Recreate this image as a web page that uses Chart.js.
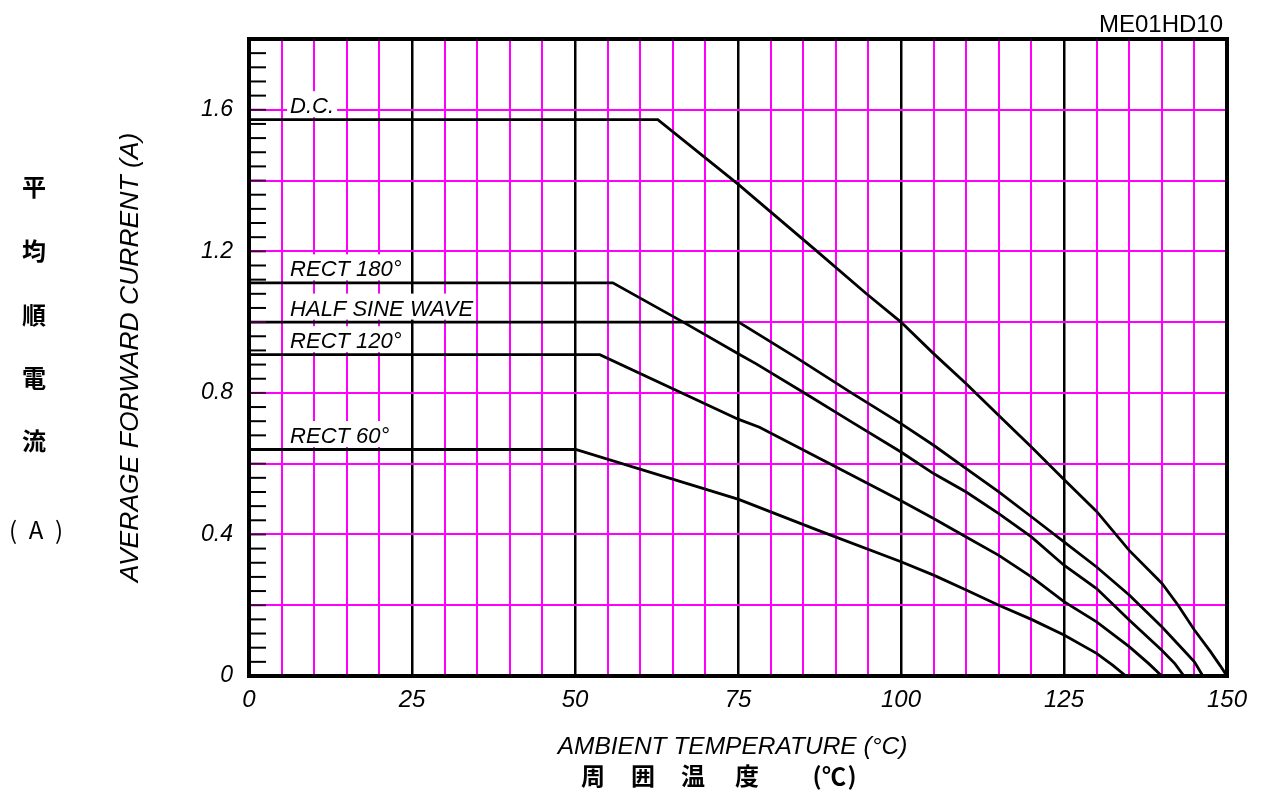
<!DOCTYPE html>
<html>
<head>
<meta charset="utf-8">
<script src="https://cdn.jsdelivr.net/npm/chart.js@4.4.1/dist/chart.umd.min.js"></script>
<style>
html,body{margin:0;padding:0;background:#fff;}
#wrap{width:1265px;height:798px;position:relative;}
</style>
</head>
<body>
<div id="wrap"><canvas id="chart"></canvas></div>
<script>
// derating curves (temp in degC, current in A)
const dcT = [0, 62.7, 75, 87, 94.7, 100, 105, 110, 115, 120, 125, 130, 135, 140, 142.5, 145, 147.5, 149, 150];
const dcA = [1.572, 1.572, 1.39, 1.202, 1.08, 1.0, 0.911, 0.826, 0.736, 0.647, 0.555, 0.465, 0.355, 0.262, 0.2, 0.13, 0.068, 0.028, 0];

const r180T = [0, 55.8, 66.6, 75.1, 77.8, 85, 92.4, 100, 105, 110, 115, 120, 125, 130, 135, 140, 142, 143.4];
const r180A = [1.111, 1.111, 1.0, 0.91, 0.882, 0.802, 0.718, 0.633, 0.572, 0.52, 0.459, 0.393, 0.313, 0.247, 0.158, 0.073, 0.035, 0];

const halfT = [0, 75.1, 84, 92.4, 100, 105, 110, 115, 120, 125, 130, 135, 140, 143, 145, 146.3];
const halfA = [1.0, 1.0, 0.899, 0.80, 0.713, 0.652, 0.586, 0.52, 0.45, 0.379, 0.308, 0.229, 0.139, 0.08, 0.04, 0];

const r120T = [0, 53.8, 75.1, 78.3, 89.6, 100, 105, 110, 115, 120, 125, 130, 135, 138, 140];
const r120A = [0.908, 0.908, 0.725, 0.703, 0.595, 0.495, 0.445, 0.393, 0.341, 0.28, 0.21, 0.153, 0.083, 0.035, 0];

const r60T = [0, 50.1, 75.1, 87.5, 100, 105, 110, 115, 120, 125, 130, 132.5, 134.5];
const r60A = [0.640, 0.640, 0.499, 0.41, 0.323, 0.285, 0.243, 0.2, 0.16, 0.116, 0.064, 0.03, 0];

const seriesNames = ["D.C.", "RECT 180°", "HALF SINE WAVE", "RECT 120°", "RECT 60°"];
const xTicksShown = [0, 25, 50, 75, 100, 125, 150];
const yTicksShown = ["0", "0.4", "0.8", "1.2", "1.6"];

const FONT = '"Liberation Sans", Arial, sans-serif';
const JFONT = '"Noto Sans CJK JP", sans-serif';
const MAGENTA = "#ff00ff";
const LABEL_AT = 6.3; // degC where curve names start

function pts(t, a){ return t.map((v,i)=>({x:v, y:a[i]})); }

const curves = [pts(dcT,dcA), pts(r180T,r180A), pts(halfT,halfA), pts(r120T,r120A), pts(r60T,r60A)];

const decor = {
  id: "decor",
  beforeDatasetsDraw(chart){
    const {ctx, scales:{x, y}} = chart;
    ctx.save();
    ctx.font = "italic 22px " + FONT;
    ctx.textBaseline = "alphabetic";
    chart.data.datasets.forEach(ds=>{
      const px = x.getPixelForValue(LABEL_AT);
      const base = y.getPixelForValue(ds.data[0].y) - 6.5;
      const w = ctx.measureText(ds.label).width;
      ctx.fillStyle = "#fff";
      ctx.fillRect(px-3, base-22, w+6, 26);
      ctx.fillStyle = "#000";
      ctx.fillText(ds.label, px, base);
    });
    ctx.restore();
  },
  afterDatasetsDraw(chart){
    const {ctx, chartArea:a, scales:{y}} = chart;
    ctx.save();
    // small ticks on the left axis every 0.04 A
    for(let k=1;k<45;k++){
      const py = y.getPixelForValue(k*0.04);
      ctx.strokeStyle = (k%5===0) ? "#4a0040" : "#000";
      ctx.lineWidth = 2;
      ctx.beginPath();
      ctx.moveTo(a.left, py);
      ctx.lineTo(a.left+17, py);
      ctx.stroke();
    }
    ctx.strokeStyle = "#000";
    ctx.lineWidth = 4;
    ctx.strokeRect(a.left, a.top, a.right-a.left, a.bottom-a.top);
    ctx.restore();
  },
  afterDraw(chart){
    const {ctx, chartArea:a} = chart;
    ctx.save();
    ctx.fillStyle = "#000";

    ctx.font = "24px " + FONT;
    ctx.textAlign = "right";
    ctx.textBaseline = "alphabetic";
    ctx.fillText("ME01HD10", 1223, 31.5);

    ctx.textAlign = "center";
    ctx.font = "italic 24.5px " + FONT;
    ctx.fillText("AMBIENT TEMPERATURE (°C)", 732.5, 754);

    ctx.save();
    ctx.translate(130.5, (a.top+a.bottom)/2);
    ctx.rotate(-Math.PI/2);
    ctx.font = "italic 26.5px " + FONT;
    ctx.textBaseline = "middle";
    ctx.fillText("AVERAGE FORWARD CURRENT (A)", 0, 0);
    ctx.restore();

    ctx.font = "bold 24px " + JFONT;
    ctx.textBaseline = "middle";
    const bottomJ = [["周",593],["囲",643],["温",693],["度",747],["(",817],["℃",834],[")",852]];
    bottomJ.forEach(([t,cx])=>ctx.fillText(t, cx, 776));

    const leftJ = [["平",187],["均",251],["順",315],["電",378],["流",441]];
    leftJ.forEach(([t,cy])=>ctx.fillText(t, 34, cy));
    ctx.font = "24px " + JFONT;
    [["(",13],["A",36],[")",59]].forEach(([t,cx])=>ctx.fillText(t, cx, 530));
    ctx.restore();
  }
};

new Chart(document.getElementById("chart"), {
  type: "line",
  data: {
    datasets: curves.map((d,i)=>({
      label: seriesNames[i],
      data: d,
      borderColor: "#000",
      borderWidth: 2.8,
      pointRadius: 0,
      tension: 0,
      fill: false
    }))
  },
  options: {
    responsive: true,
    maintainAspectRatio: false,
    animation: false,
    layout: { padding: { top: 39, right: 38, left: 0, bottom: 0 } },
    plugins: { legend: { display: false }, tooltip: { enabled: false } },
    scales: {
      x: {
        type: "linear",
        min: 0, max: 150,
        afterFit: s => { s.height = 122; },
        border: { display: false },
        grid: {
          drawTicks: false,
          color: c => xTicksShown.includes(Math.round(c.tick.value)) ? "#000" : MAGENTA,
          lineWidth: c => xTicksShown.includes(Math.round(c.tick.value)) ? 2.5 : 2
        },
        ticks: {
          stepSize: 5,
          autoSkip: false,
          maxRotation: 0,
          padding: 10,
          color: "#000",
          font: { family: FONT, size: 24, style: "italic" },
          callback: v => xTicksShown.includes(v) ? String(v) : ""
        }
      },
      y: {
        min: 0, max: 1.8,
        afterFit: s => { s.width = 249; },
        border: { display: false },
        grid: { drawTicks: false, color: MAGENTA, lineWidth: 2 },
        ticks: {
          stepSize: 0.2,
          autoSkip: false,
          padding: 16,
          color: "#000",
          font: { family: FONT, size: 23, style: "italic" },
          callback: v => {
            const r = Math.round(v*10)/10;
            const lbl = (r === 0) ? "0" : r.toFixed(1);
            return yTicksShown.includes(lbl) ? lbl : "";
          }
        }
      }
    }
  },
  plugins: [decor]
});
</script>
</body>
</html>
